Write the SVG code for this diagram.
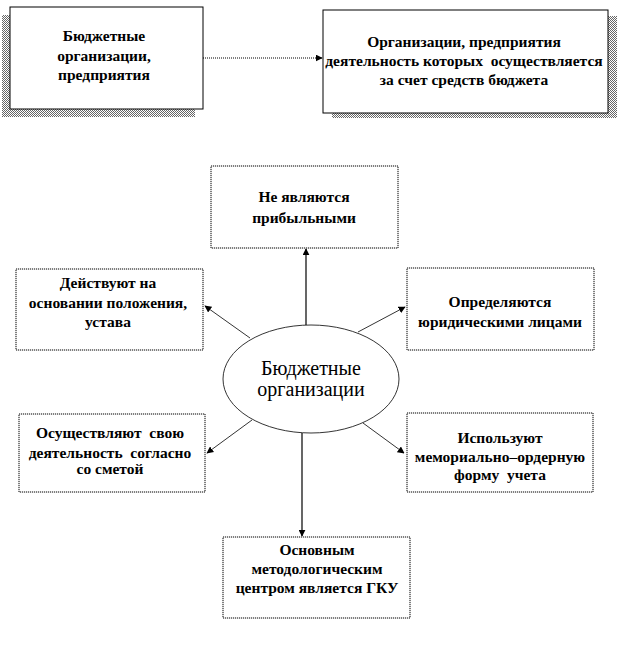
<svg xmlns="http://www.w3.org/2000/svg" width="626" height="660" viewBox="0 0 626 660">
<style>
.bx{fill:#fff;stroke:#000;stroke-width:1;stroke-dasharray:1.2 0.8}
.t{font-family:"Liberation Serif","Times New Roman",serif;font-weight:bold;font-size:15.5px;fill:#000;text-anchor:middle;white-space:pre}
.te{font-family:"Liberation Serif","Times New Roman",serif;font-size:20px;fill:#000;text-anchor:middle}
.sd{fill:url(#hatch)}
.solid{stroke:#000;stroke-width:1.2;fill:none}
.thin{stroke:#000;stroke-width:0.8;fill:none}
.dot{stroke:#000;stroke-width:1;fill:none;stroke-dasharray:1 1}
</style>
<defs>
<pattern id="hatch" width="2" height="2" patternUnits="userSpaceOnUse">
<rect width="2" height="2" fill="#fff"/>
<rect width="1" height="1" fill="#666"/>
<rect x="1" y="1" width="1" height="1" fill="#666"/>
</pattern>
<marker id="ah" viewBox="0 0 10 10" refX="9" refY="5" markerWidth="7" markerHeight="7" markerUnits="userSpaceOnUse" orient="auto">
<path d="M0,0 L10,5 L0,10 z" fill="#000"/>
</marker>
</defs>
<rect width="626" height="660" fill="#fff"/>

<g id="n-budget-org">
<rect class="sd" x="2" y="15" width="193" height="102"/>
<rect class="bx" x="10" y="7" width="193" height="102" style="stroke-dasharray:none"/>
<text class="t" x="104" y="41">Бюджетные</text>
<text class="t" x="104" y="61">организации,</text>
<text class="t" x="104" y="80">предприятия</text>
</g>

<g id="n-definition">
<rect class="sd" x="332" y="16" width="285" height="102"/>
<rect class="bx" x="323" y="10" width="285" height="103" style="stroke-dasharray:none"/>
<text class="t" x="464" y="47">Организации, предприятия</text>
<text class="t" x="464" y="66">деятельность которых  осуществляется</text>
<text class="t" x="464" y="85">за счет средств бюджета</text>
</g>

<g id="n-not-profit">
<rect class="bx" x="211" y="166" width="187" height="82"/>
<text class="t" x="304" y="202">Не являются</text>
<text class="t" x="304" y="223">прибыльными</text>
</g>

<g id="n-acts">
<rect class="bx" x="16" y="269" width="187" height="81"/>
<text class="t" x="108" y="288">Действуют на</text>
<text class="t" x="108" y="308">основании положения,</text>
<text class="t" x="108" y="327">устава</text>
</g>

<g id="n-legal">
<rect class="bx" x="407" y="268" width="187" height="82"/>
<text class="t" x="500" y="307">Определяются</text>
<text class="t" x="500" y="327">юридическими лицами</text>
</g>

<g id="n-estimate">
<rect class="bx" x="19" y="414" width="186" height="78"/>
<text class="t" x="110" y="438">Осуществляют  свою</text>
<text class="t" x="110" y="458">деятельность  согласно</text>
<text class="t" x="110" y="474">со сметой</text>
</g>

<g id="n-memorial">
<rect class="bx" x="407" y="413" width="186" height="79"/>
<text class="t" x="500" y="443">Используют</text>
<text class="t" x="500" y="462">мемориально–ордерную</text>
<text class="t" x="500" y="480">форму  учета</text>
</g>

<g id="n-gku">
<rect class="bx" x="223" y="537" width="187" height="81"/>
<text class="t" x="317" y="555">Основным</text>
<text class="t" x="317" y="574">методологическим</text>
<text class="t" x="317" y="593">центром является ГКУ</text>
</g>

<g id="n-center">
<ellipse cx="311" cy="379" rx="88" ry="54" fill="#fff" stroke="#000" stroke-width="0.8"/>
<text class="te" x="311" y="375">Бюджетные</text>
<text class="te" x="311" y="396">организации</text>
</g>

<g id="connectors">
<line class="dot" x1="203" y1="58" x2="322" y2="58" marker-end="url(#ah)"/>
<line class="solid" x1="306" y1="325" x2="306" y2="249" marker-end="url(#ah)"/>
<line class="solid" x1="302" y1="433" x2="302" y2="536" marker-end="url(#ah)"/>
<line class="thin" x1="250" y1="338" x2="205" y2="306" marker-end="url(#ah)"/>
<line class="thin" x1="358" y1="332" x2="405" y2="307" marker-end="url(#ah)"/>
<line class="thin" x1="252" y1="420" x2="207" y2="453" marker-end="url(#ah)"/>
<line class="thin" x1="363" y1="423" x2="404" y2="453" marker-end="url(#ah)"/>
</g>
</svg>
